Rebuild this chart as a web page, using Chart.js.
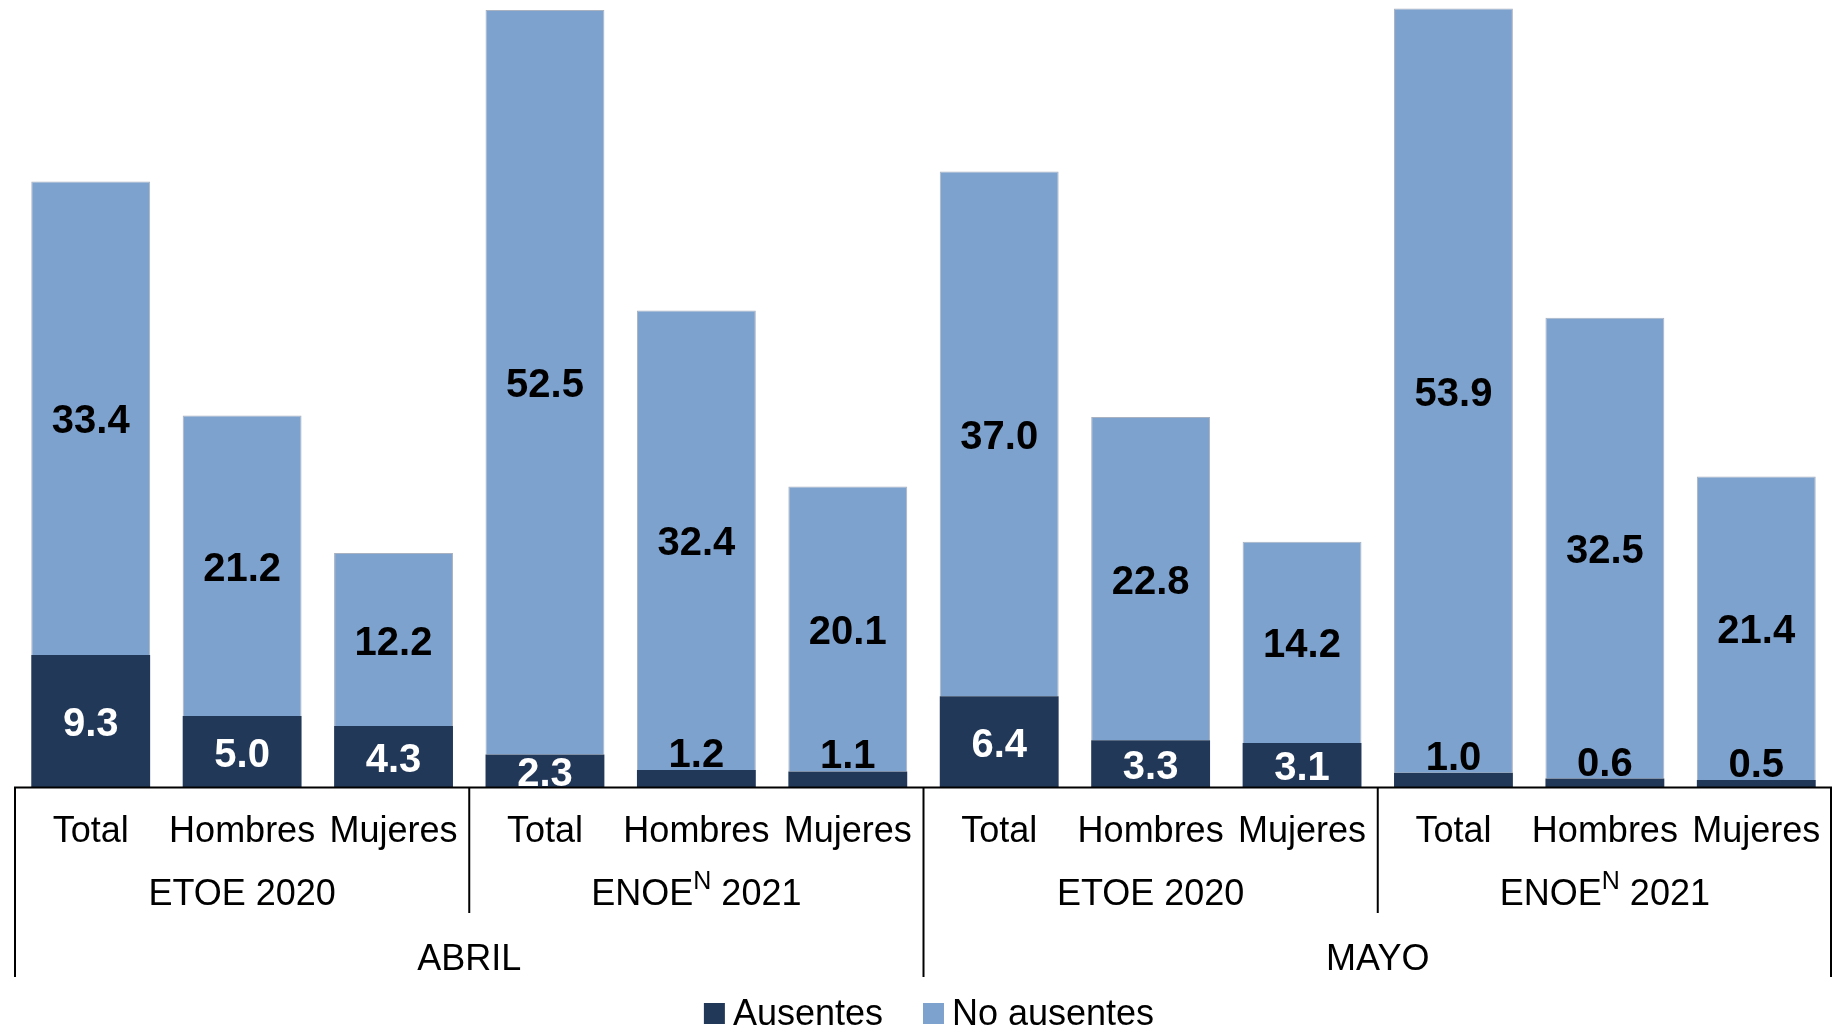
<!DOCTYPE html>
<html>
<head>
<meta charset="utf-8">
<script src="https://cdn.jsdelivr.net/npm/chart.js@4.4.1/dist/chart.umd.min.js"></script>
<style>
  html, body { margin: 0; padding: 0; background: #ffffff; overflow: hidden; }
  #wrap { width: 1832px; height: 1032px; position: relative; }
</style>
</head>
<body>
<div id="wrap"><canvas id="c" width="1832" height="1032"></canvas></div>
<script>
// ---- Data ----
const categories = ['Total', 'Hombres', 'Mujeres', 'Total', 'Hombres', 'Mujeres',
                    'Total', 'Hombres', 'Mujeres', 'Total', 'Hombres', 'Mujeres'];
const surveys = ['ETOE 2020', 'ENOE^N 2021', 'ETOE 2020', 'ENOE^N 2021'];
const months = ['ABRIL', 'MAYO'];
const ausentes = [9.3, 5.0, 4.3, 2.3, 1.2, 1.1, 6.4, 3.3, 3.1, 1.0, 0.6, 0.5];
const noAusentes = [33.4, 21.2, 12.2, 52.5, 32.4, 20.1, 37.0, 22.8, 14.2, 53.9, 32.5, 21.4];
const seriesNames = ['Ausentes', 'No ausentes'];

const FONT = '"Liberation Sans", Arial, Helvetica, sans-serif';
const DARK = '#223859';
const LIGHT = '#7EA2CE';
const TXT = 36;

function drawRich(ctx, str, cx, baseline, size) {
  // supports one superscript marker "^X"
  const m = str.match(/^(.*?)\^(\S)(.*)$/);
  const parts = m ? [[m[1], false], [m[2], true], [m[3], false]] : [[str, false]];
  const supSize = Math.round(size * 0.7);
  let total = 0;
  parts.forEach(p => {
    ctx.font = (p[1] ? supSize : size) + 'px ' + FONT;
    p.w = ctx.measureText(p[0]).width;
    total += p.w;
  });
  let x = cx - total / 2;
  ctx.textAlign = 'left';
  ctx.textBaseline = 'alphabetic';
  parts.forEach(p => {
    ctx.font = (p[1] ? supSize : size) + 'px ' + FONT;
    ctx.fillText(p[0], x, p[1] ? baseline - size * 0.44 : baseline);
    x += p.w;
  });
}

const overlay = {
  id: 'overlay',
  afterDatasetsDraw(chart) {
    const ctx = chart.ctx;
    const xs = chart.scales.x, ys = chart.scales.y;
    const y0 = ys.getPixelForValue(0);
    ctx.save();

    // value labels
    chart.data.datasets.forEach((ds, d) => {
      const meta = chart.getDatasetMeta(d);
      meta.data.forEach((bar, i) => {
        const v = ds.data[i];
        let cy = (bar.y + bar.base) / 2;
        let color = d === 0 ? '#ffffff' : '#000000';
        if (d === 0 && v < 2) { cy = bar.y - 18; color = '#000000'; }
        ctx.font = 'bold 40px ' + FONT;
        ctx.textAlign = 'center';
        ctx.textBaseline = 'middle';
        ctx.fillStyle = color;
        ctx.fillText(v.toFixed(1), bar.x, cy + 4);
      });
    });

    // axis line and separators
    const n = categories.length;
    const left = xs.left, right = xs.right - 1;
    ctx.strokeStyle = '#000000';
    ctx.lineWidth = 2;
    ctx.beginPath();
    ctx.moveTo(left - 1, y0 + 0.5); ctx.lineTo(right + 1, y0 + 0.5);
    ctx.stroke();

    const monthBottom = y0 + 190;
    const groupBottom = y0 + 126;
    const vline = (x, yb) => { ctx.beginPath(); ctx.moveTo(x, y0); ctx.lineTo(x, yb); ctx.stroke(); };
    vline(left, monthBottom);
    vline(right, monthBottom);
    for (let g = 1; g < surveys.length; g++) {
      const sx = (xs.getPixelForValue(g * 3 - 1) + xs.getPixelForValue(g * 3)) / 2;
      vline(sx, g % 2 === 0 ? monthBottom : groupBottom);
    }

    // category labels
    ctx.fillStyle = '#000000';
    ctx.font = TXT + 'px ' + FONT;
    ctx.textAlign = 'center';
    ctx.textBaseline = 'alphabetic';
    categories.forEach((c, i) => {
      ctx.fillText(c, xs.getPixelForValue(i), y0 + 55);
    });
    // survey labels
    surveys.forEach((s, g) => {
      const cx = (xs.getPixelForValue(g * 3) + xs.getPixelForValue(g * 3 + 2)) / 2;
      drawRich(ctx, s, cx, y0 + 118, TXT);
    });
    // month labels
    ctx.font = TXT + 'px ' + FONT;
    ctx.textAlign = 'center';
    months.forEach((m, k) => {
      const cx = (xs.getPixelForValue(k * 6) + xs.getPixelForValue(k * 6 + 5)) / 2;
      ctx.fillText(m, cx, y0 + 183);
    });

    // legend
    const box = 21, gap = 8, spacing = 40;
    ctx.font = TXT + 'px ' + FONT;
    const widths = chart.data.datasets.map(ds => ctx.measureText(ds.label).width);
    let total = 0;
    widths.forEach((w, k) => { total += box + gap + w + (k < widths.length - 1 ? spacing : 0); });
    let lx = (left + right) / 2 + 6 - total / 2;
    const lb = y0 + 238;
    chart.data.datasets.forEach((ds, k) => {
      ctx.fillStyle = ds.backgroundColor;
      ctx.fillRect(lx, lb - box - 1, box, box);
      lx += box + gap;
      ctx.fillStyle = '#000000';
      ctx.textAlign = 'left';
      ctx.textBaseline = 'alphabetic';
      ctx.fillText(ds.label, lx, lb);
      lx += widths[k] + spacing;
    });
    ctx.restore();
  }
};

new Chart(document.getElementById('c'), {
  type: 'bar',
  data: {
    labels: categories,
    datasets: [
      { label: seriesNames[0], data: ausentes, backgroundColor: DARK, borderWidth: 0 },
      { label: seriesNames[1], data: noAusentes, backgroundColor: LIGHT,
        borderColor: 'rgba(160,170,185,0.9)', borderWidth: 1 }
    ]
  },
  options: {
    responsive: false,
    animation: false,
    events: [],
    layout: { padding: { left: 15, right: 0, top: 0, bottom: 0 } },
    datasets: { bar: { categoryPercentage: 1.0, barPercentage: 0.785 } },
    plugins: { legend: { display: false }, tooltip: { enabled: false } },
    scales: {
      x: {
        stacked: true,
        grid: { display: false },
        border: { display: false },
        ticks: { display: false },
        afterFit(scale) { scale.height = 245; }
      },
      y: { stacked: true, display: false, min: 0, max: 55.5 }
    }
  },
  plugins: [overlay]
});
</script>
</body>
</html>
